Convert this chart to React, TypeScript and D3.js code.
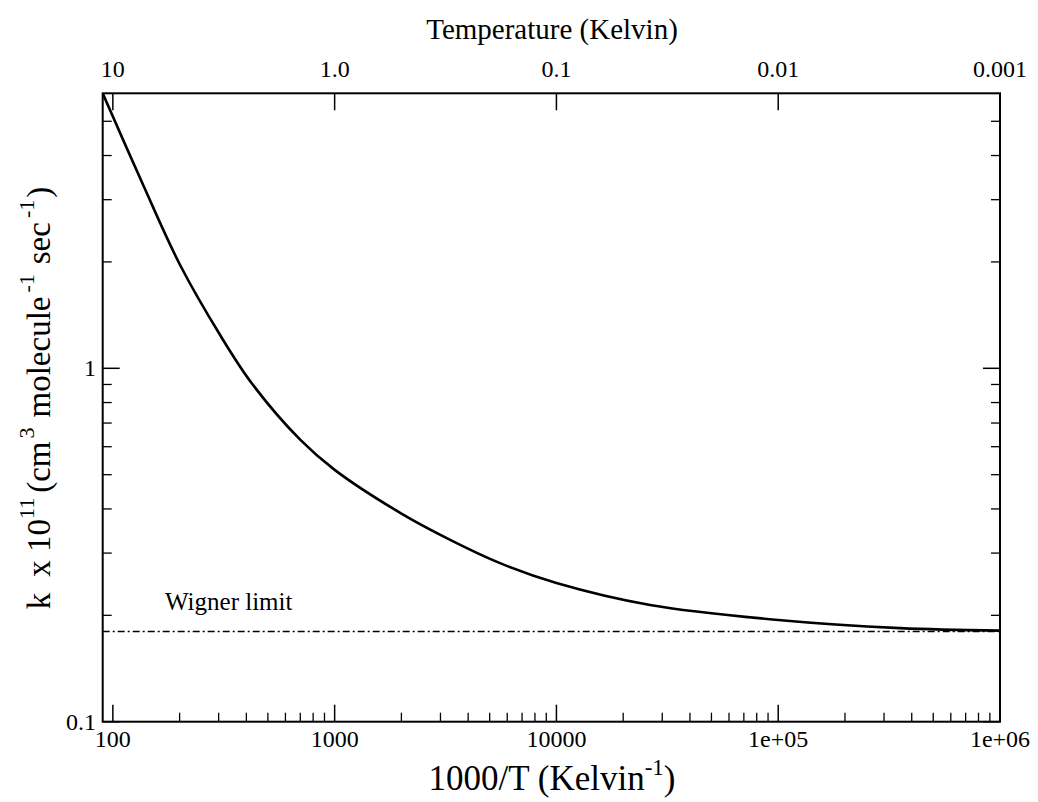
import React from "react";
import * as d3 from "d3";

// 1000/T (Kelvin^-1) values and rate constant k x 10^11
const invT = [90, 137, 201, 305, 423, 701, 1000, 1974, 3320, 5570, 10000, 26450, 100000, 354400, 1000000];
const rate = [6.0, 3.3, 1.96, 1.24, 0.907, 0.627, 0.516, 0.39, 0.327, 0.281, 0.247, 0.214, 0.194, 0.184, 0.181];
const wignerLimit = 0.18;

const xMajorTicks = [100, 1000, 10000, 100000, 1000000];
const xMajorLabels = ["100", "1000", "10000", "1e+05", "1e+06"];
const tempTicks = [10, 1, 0.1, 0.01, 0.001];
const tempLabels = ["10", "1.0", "0.1", "0.01", "0.001"];
const yMajorTicks = [0.1, 1];
const yMajorLabels = ["0.1", "1"];

const W = 1038;
const H = 802;
const L = 102.7, R = 1000, T = 93.3, B = 721.7;

export default function App() {
  const x = d3.scaleLog().domain([90, 1e6]).range([L, R]);
  const y = d3.scaleLog().domain([0.1, 6]).range([B, T]);

  const xMinor: number[] = [];
  for (let e = 2; e <= 5; e++) {
    for (let m = 2; m <= 9; m++) {
      const v = m * Math.pow(10, e);
      if (v > 90 && v < 1e6) xMinor.push(v);
    }
  }
  const yMinor: number[] = [];
  for (let m = 2; m <= 9; m++) yMinor.push(m * 0.1);
  for (let m = 2; m <= 5; m++) yMinor.push(m);

  const pts: [number, number][] = invT.map((v, i) => [x(v), y(rate[i])]);
  const line = d3.line().curve(d3.curveCatmullRom.alpha(0.5))(pts) || "";

  const font = "'Liberation Serif', 'Times New Roman', serif";
  const major = 17, minor = 9;

  return (
    <svg width={W} height={H} style={{ position: "absolute", left: 0, top: 0, background: "#fff" }} fontFamily={font}>
      <rect x={0} y={0} width={W} height={H} fill="#fff" />
      <defs>
        <clipPath id="plot">
          <rect x={L} y={T} width={R - L} height={B - T} />
        </clipPath>
      </defs>

      {/* Wigner limit */}
      <line x1={L} x2={R} y1={y(wignerLimit)} y2={y(wignerLimit)} stroke="#000" strokeWidth={1.3} strokeDasharray="7,3,2,3" />
      <text x={165} y={610} fontSize={25}>Wigner limit</text>

      {/* curve */}
      <path d={line} fill="none" stroke="#000" strokeWidth={2.6} clipPath="url(#plot)" />

      {/* bottom ticks */}
      {xMajorTicks.map((v, i) => (
        <g key={"xb" + i}>
          <line x1={x(v)} x2={x(v)} y1={B} y2={B - major} stroke="#000" strokeWidth={1.5} />
          <text x={x(v)} y={747} fontSize={24} textAnchor="middle">{xMajorLabels[i]}</text>
        </g>
      ))}
      {xMinor.map((v, i) => (
        <line key={"xm" + i} x1={x(v)} x2={x(v)} y1={B} y2={B - minor} stroke="#000" strokeWidth={1.3} />
      ))}

      {/* top ticks: temperature */}
      {tempTicks.map((t, i) => (
        <g key={"xt" + i}>
          <line x1={x(1000 / t)} x2={x(1000 / t)} y1={T} y2={T + major} stroke="#000" strokeWidth={1.5} />
          <text x={x(1000 / t)} y={77} fontSize={24} textAnchor="middle">{tempLabels[i]}</text>
        </g>
      ))}

      {/* left & right ticks */}
      {yMajorTicks.map((v, i) => (
        <g key={"yl" + i}>
          <line x1={L} x2={L + major} y1={y(v)} y2={y(v)} stroke="#000" strokeWidth={1.5} />
          <line x1={R} x2={R - major} y1={y(v)} y2={y(v)} stroke="#000" strokeWidth={1.5} />
          <text x={96} y={y(v) + 8} fontSize={24} textAnchor="end">{yMajorLabels[i]}</text>
        </g>
      ))}
      {yMinor.map((v, i) => (
        <g key={"ym" + i}>
          <line x1={L} x2={L + minor} y1={y(v)} y2={y(v)} stroke="#000" strokeWidth={1.3} />
          <line x1={R} x2={R - minor} y1={y(v)} y2={y(v)} stroke="#000" strokeWidth={1.3} />
        </g>
      ))}

      {/* frame */}
      <rect x={L} y={T} width={R - L} height={B - T} fill="none" stroke="#000" strokeWidth={2} />

      {/* titles */}
      <text x={552} y={39} fontSize={29} textAnchor="middle">Temperature (Kelvin)</text>
      <text x={552} y={790} fontSize={35} textAnchor="middle">
        1000/T (Kelvin<tspan dy={-15} fontSize={23}>-1</tspan><tspan dy={15}>)</tspan>
      </text>
      <text transform="translate(50,398) rotate(-90)" fontSize={33} textAnchor="middle">
        k<tspan dx={16}>x 10</tspan><tspan dy={-16} fontSize={22}>11</tspan><tspan dy={16} dx={5}>(cm</tspan>
        <tspan dy={-16} fontSize={22} dx={3}>3</tspan><tspan dy={16} dx={10}>molecule</tspan>
        <tspan dy={-16} fontSize={22} dx={4}>-1</tspan><tspan dy={16} dx={10}>sec</tspan>
        <tspan dy={-16} fontSize={22} dx={4}>-1</tspan><tspan dy={16} dx={2}>)</tspan>
      </text>
    </svg>
  );
}
